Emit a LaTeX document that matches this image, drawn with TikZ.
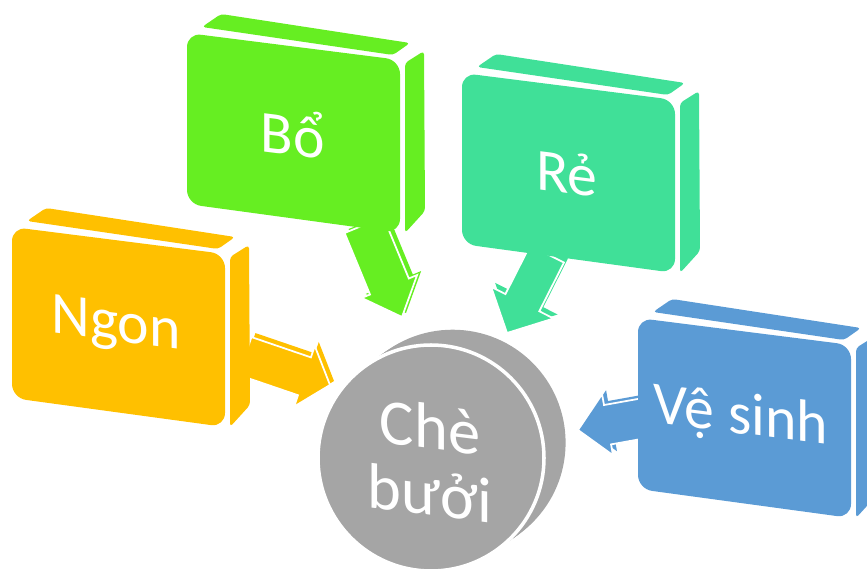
\documentclass[tikz,border=0pt]{standalone}
\usepackage{fontspec}
\setmainfont{Carlito}
\usepackage{xcolor}
\usetikzlibrary{calc}

\definecolor{bogreen}{HTML}{66EE22}
\definecolor{ngonorange}{HTML}{FFC000}
\definecolor{reteal}{HTML}{40E098}
\definecolor{vsblue}{HTML}{5B9BD5}
\definecolor{chegray}{HTML}{A5A5A5}

% slab with front face top-left at (#1,#2)
\newcommand\slab[3]{%
  \begin{scope}[shift={(#1,#2)}]
    \fill[#3, rounded corners=3pt] (15,-6) -- (34,-19) -- (223,10) -- (206,22) -- cycle;
    \fill[#3, rounded corners=3pt] (218,30) -- (237,18) -- (238,178) -- (218,200) -- cycle;
    \fill[#3, rounded corners=12pt] (0,0) -- (213,27) -- (213,200) -- (0,171) -- cycle;
  \end{scope}}

\newcommand\arrowfill[6]{%
  \fill[#6] ($(#1)!#4!90:(#2)$) -- ($(#3)!#4!90:(#2)$) -- ($(#3)!#5!90:(#2)$) -- (#2)
    -- ($(#3)!#5!-90:(#2)$) -- ($(#3)!#4!-90:(#2)$) -- ($(#1)!#4!-90:(#2)$) -- cycle;}

% start, tip, shaft half width, head half width, head length, colour
\newcommand\blockarrow[6]{%
  \coordinate (#1k) at ($(#1)+(4,-4)$);
  \coordinate (#2k) at ($(#2)+(4,-4)$);
  \coordinate (#2b) at ($(#2)!#5!(#1)$);
  \coordinate (#2kb) at ($(#2k)!#5!(#1k)$);
  \arrowfill{#1k}{#2k}{#2kb}{#3}{#4}{#6}
  \arrowfill{#1}{#2}{#2b}{#3}{#4}{#6, draw=white, line width=1.5pt}}

\begin{document}
\begin{tikzpicture}[x=0.03cm, y=-0.03cm,
  lbl/.style={text=white, inner sep=0pt, yslant=-0.125, font=\fontsize{51}{60}\selectfont},
  disk/.style={text=white, inner sep=0pt, yslant=-0.125, align=center, font=\fontsize{55}{57}\selectfont}]
\useasboundingbox (0,0) rectangle (867,572);

% centre disk
\coordinate (chec) at (431,458);
\foreach \t in {0,0.1,...,1}
  \fill[chegray] ($(chec)+\t*(24,-17)$) circle [radius=113];
\fill[chegray, draw=white, line width=3pt] (chec) circle [radius=113];

% arrows
\coordinate (ngon-s) at (245,356);
\coordinate (ngon-t) at (330,385);
\coordinate (bo-s) at (364,225);
\coordinate (bo-t) at (402,317);
\coordinate (re-s) at (547,254);
\coordinate (re-t) at (507,333);
\coordinate (vs-s) at (645,418);
\coordinate (vs-t) at (578,430);
\blockarrow{ngon-s}{ngon-t}{0.6cm}{0.96cm}{0.81cm}{ngonorange}
\blockarrow{bo-s}{bo-t}{0.63cm}{0.9cm}{0.99cm}{bogreen}
\blockarrow{re-s}{re-t}{0.57cm}{1.05cm}{1.02cm}{reteal}
\blockarrow{vs-s}{vs-t}{0.6cm}{0.93cm}{0.9cm}{vsblue}

% boxes
\slab{187}{33}{bogreen}
\slab{12}{227}{ngonorange}
\slab{462}{73}{reteal}
\slab{638}{318}{vsblue}

\node[lbl] (bo) at (293,133) {Bổ};
\node[lbl] (ngon) at (116,327) {Ngon};
\node[lbl] (re) at (567,173) {Rẻ};
\node[lbl] (vesinh) at (741,418) {Vệ sinh};
\node[disk] (che) at (430,460) {Chè\\bưởi};
\end{tikzpicture}
\end{document}
